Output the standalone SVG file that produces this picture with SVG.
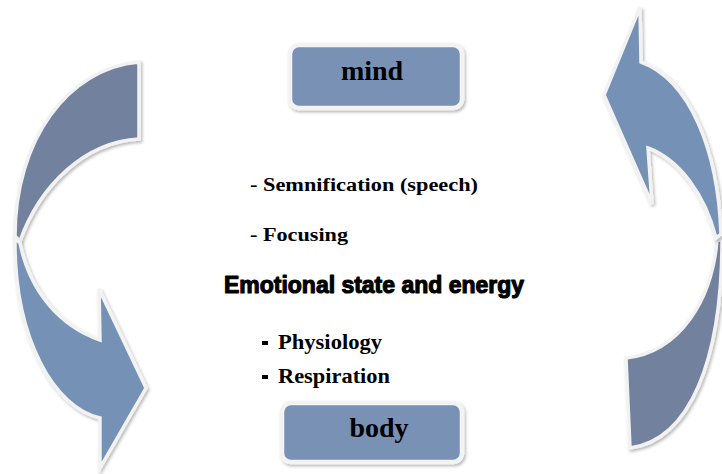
<svg xmlns="http://www.w3.org/2000/svg" width="722" height="474" viewBox="0 0 722 474">
<defs>
<filter id="sh" x="-20%" y="-20%" width="140%" height="140%">
<feDropShadow dx="1.5" dy="2" stdDeviation="1.5" flood-color="#000" flood-opacity="0.28"/>
</filter>
<style>
.band{stroke:#f2f2f2;stroke-width:3.5;stroke-linejoin:miter;filter:url(#sh)}
.dark{fill:#72829e}
.light{fill:#7591b6}
.box{fill:#7891b4;stroke:#f3f3f3;stroke-width:4.5;filter:url(#sh)}
.lbl{font-family:"Liberation Serif","Times New Roman",serif;font-weight:bold;fill:#000}
.head{font-family:"Liberation Sans",Arial,sans-serif;font-weight:bold;fill:#000;stroke:#000;stroke-width:1.1;stroke-linejoin:round}
</style>
</defs>
<rect width="722" height="474" fill="#fff"/>
<g id="connectors">
<g id="left-arrow">
<path class="band dark" d="M139,62 C68,68 15,140 15,236 L20,241 C40,185 85,142 139,139 Z"/>
<path class="band light" d="M15,238 C14,340 55,408 100,418 L100,468 L146,388 L99,289 L100,340 C60,326 30,292 20,243 Z"/>
</g>
<g id="right-arrow">
<path class="band dark" d="M722,240 C722,360 690,440 630,448 L626,358 C680,352 712,300 717,240 Z"/>
<path class="band light" d="M641,62 C690,80 718,150 721,234 L716,238 C705,195 680,160 648,148 L652,204 L604,95 L640,7 Z"/>
</g>
</g>
<g id="mind">
<rect class="box" x="290" y="45" width="172" height="63" rx="9"/>
<text class="lbl" x="372" y="80" font-size="28" text-anchor="middle">mind</text>
</g>
<g id="body">
<rect class="box" x="282" y="403" width="180" height="59" rx="9"/>
<text class="lbl" x="379" y="437" font-size="28" text-anchor="middle">body</text>
</g>
<g id="center-text">
<text class="lbl" x="250" y="191" font-size="18" textLength="228" lengthAdjust="spacingAndGlyphs">- Semnification (speech)</text>
<text class="lbl" x="250" y="241" font-size="18" textLength="98" lengthAdjust="spacingAndGlyphs">- Focusing</text>
<text class="head" x="224" y="293" font-size="23" textLength="300" lengthAdjust="spacingAndGlyphs">Emotional state and energy</text>
<rect x="262" y="341" width="6" height="4" fill="#000"/>
<text class="lbl" x="278" y="349" font-size="20" textLength="104" lengthAdjust="spacingAndGlyphs">Physiology</text>
<rect x="262" y="375" width="6" height="4" fill="#000"/>
<text class="lbl" x="278" y="383" font-size="20" textLength="112" lengthAdjust="spacingAndGlyphs">Respiration</text>
</g>
</svg>
